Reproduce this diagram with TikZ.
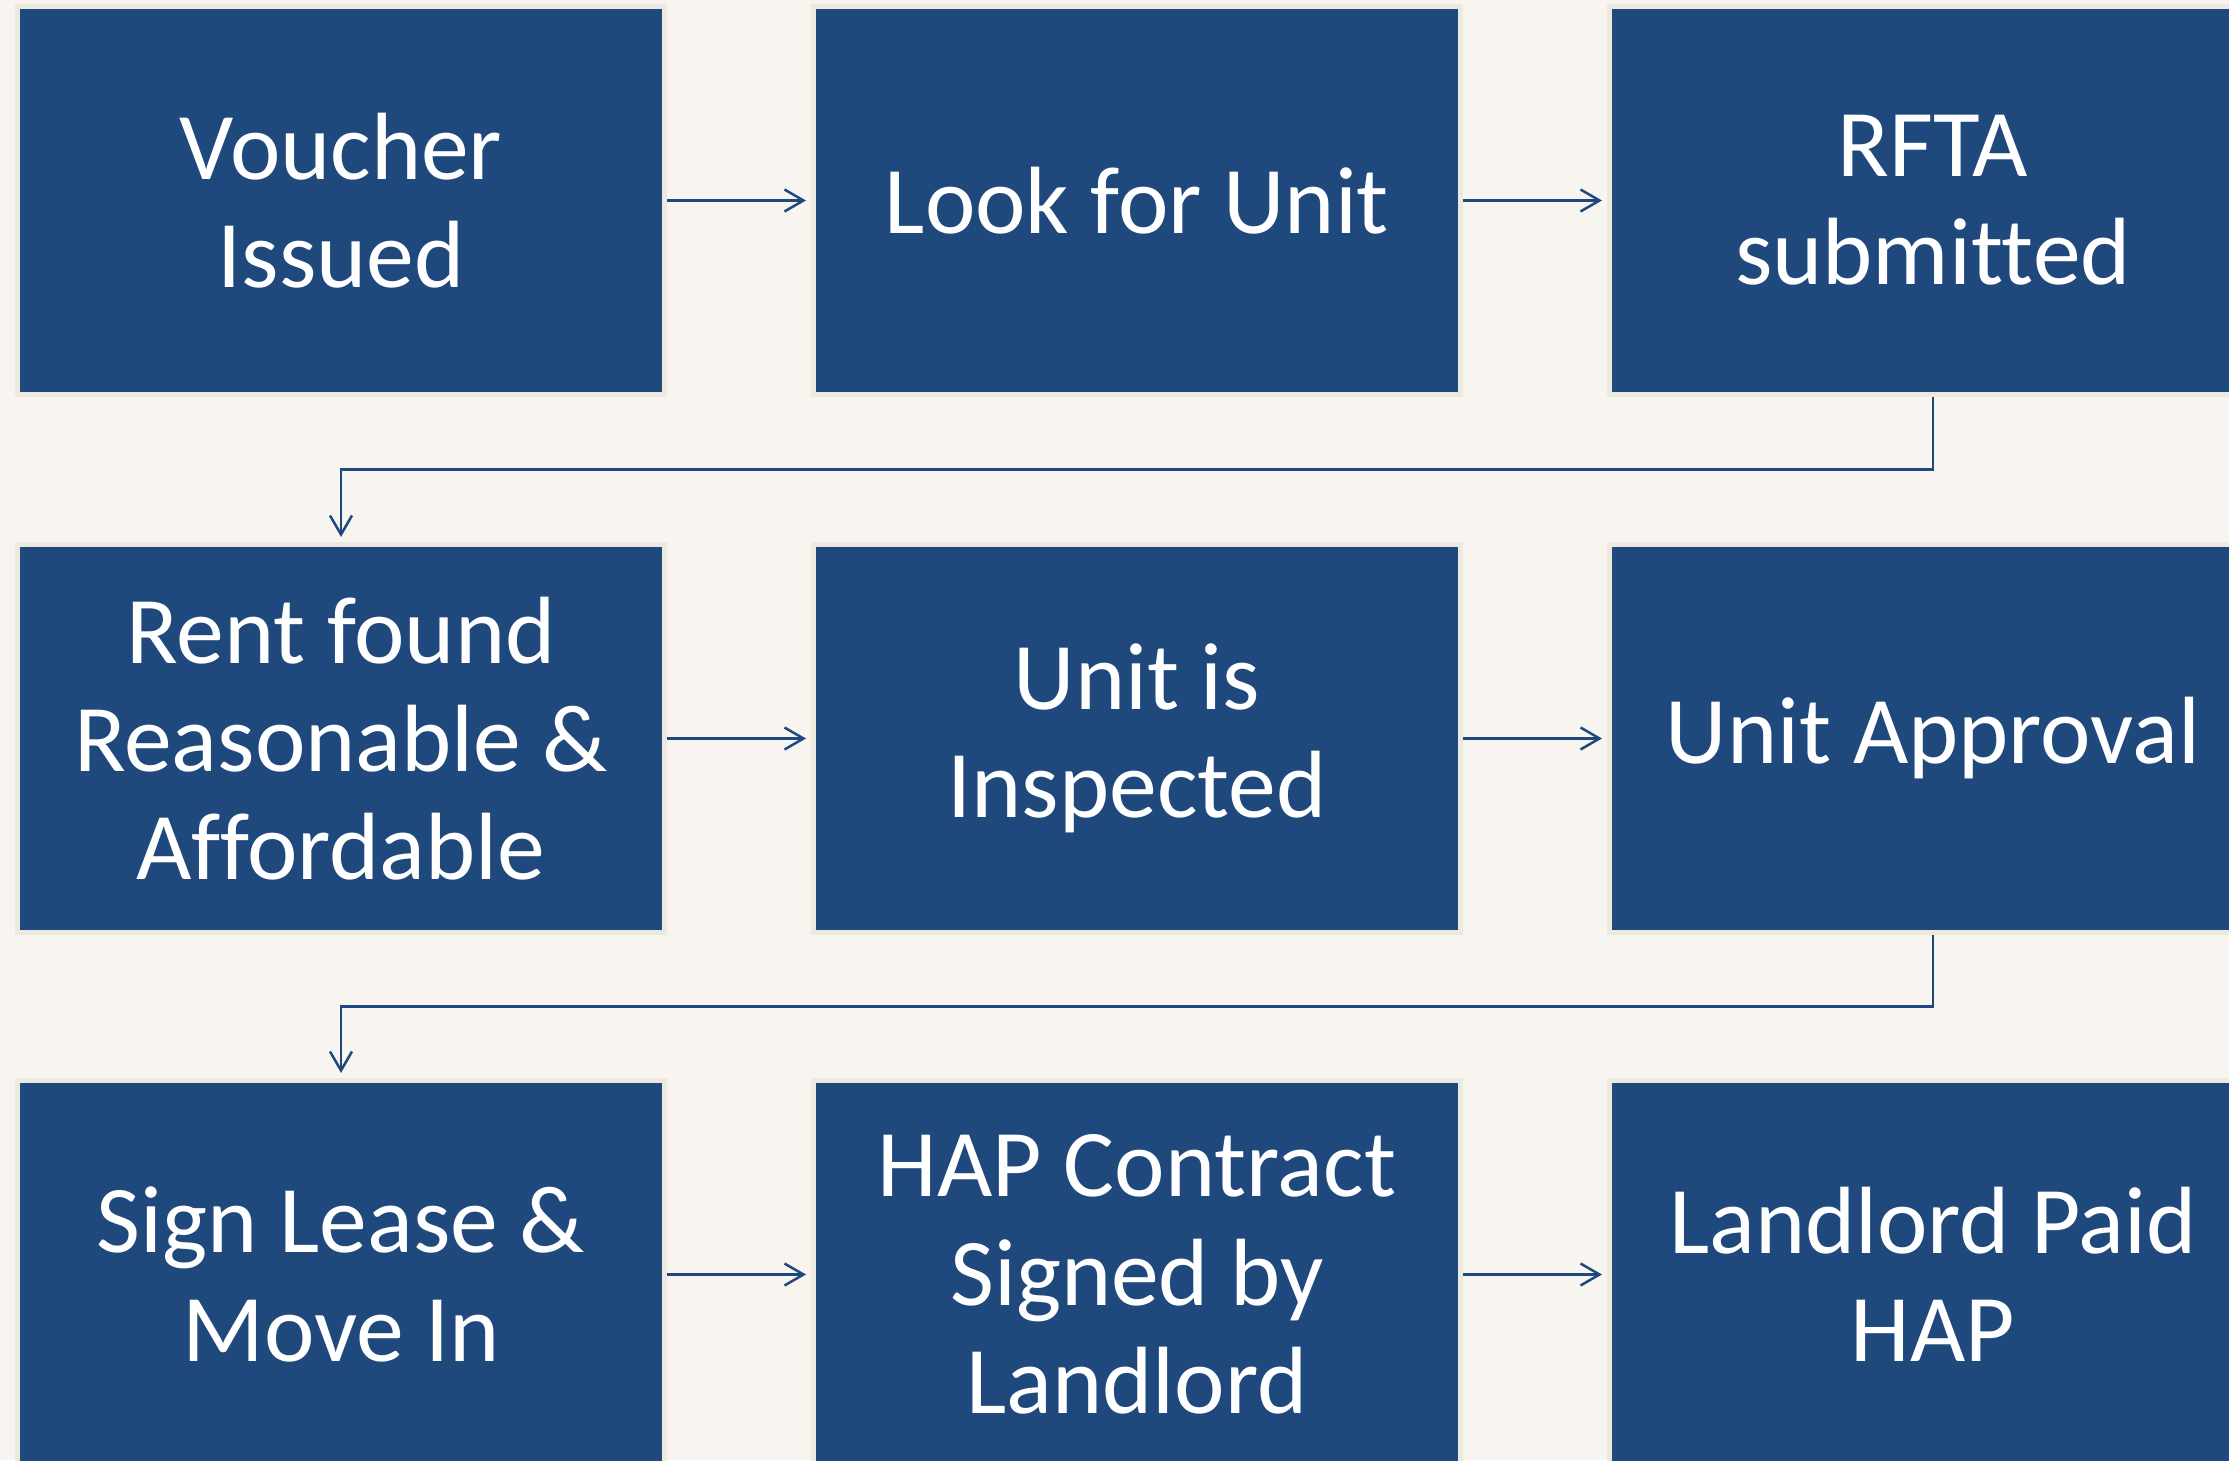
\documentclass[tikz,border=0pt]{standalone}
\usepackage{fontspec}
\setmainfont{Carlito}[Ligatures=NoCommon]
\usepackage{tikz}
\usetikzlibrary{arrows.meta}
\usetikzlibrary{calc}

\definecolor{stepblue}{RGB}{31,73,125}
\definecolor{rim}{RGB}{236,233,223}
\definecolor{paper}{RGB}{248,245,240}

\begin{document}
\begin{tikzpicture}[
  stepbox/.style={draw=rim, fill=stepblue, line width=0.05cm,
    minimum width=6.47cm, minimum height=3.88cm, inner sep=0cm,
    text=white, align=center,
    font=\fontsize{27.2}{30.8}\selectfont},
  flow/.style={line width=0.025cm, stepblue, ->,
    >={Straight Barb[length=0.19cm,width=0.22cm]}, shorten >=0.05cm}
]

\fill[paper] (0,0) rectangle (22.29,14.60);
\useasboundingbox (0,0) rectangle (22.29,14.60);

% first row
\node[stepbox] (voucher) at (3.41,12.595) {Voucher\\Issued};
\node[stepbox] (look) at (11.37,12.595) {Look for Unit};
\node[stepbox] (rfta) at (19.33,12.595) {RFTA\\submitted};

% second row
\node[stepbox] (rent) at (3.41,7.215) {Rent found\\Reasonable \&\\Affordable};
\node[stepbox] (inspect) at (11.37,7.215) {Unit is\\Inspected};
\node[stepbox] (approve) at (19.33,7.215) {Unit Approval};

% third row
\node[stepbox] (lease) at (3.41,1.855) {Sign Lease \&\\Move In};
\node[stepbox] (hap) at (11.37,1.855) {HAP Contract\\Signed by\\Landlord};
\node[stepbox] (paid) at (19.33,1.855) {Landlord Paid\\HAP};

\draw[flow] (voucher) -- (look);
\draw[flow] (look) -- (rfta);
\draw[flow] (rent) -- (inspect);
\draw[flow] (inspect) -- (approve);
\draw[flow] (lease) -- (hap);
\draw[flow] (hap) -- (paid);

% wrap to the next row
\draw[flow] (rfta.south) |- ($(rfta.south)!0.5!(rent.north)$) -| (rent.north);
\draw[flow] (approve.south) |- ($(approve.south)!0.5!(lease.north)$) -| (lease.north);
\end{tikzpicture}
\end{document}
